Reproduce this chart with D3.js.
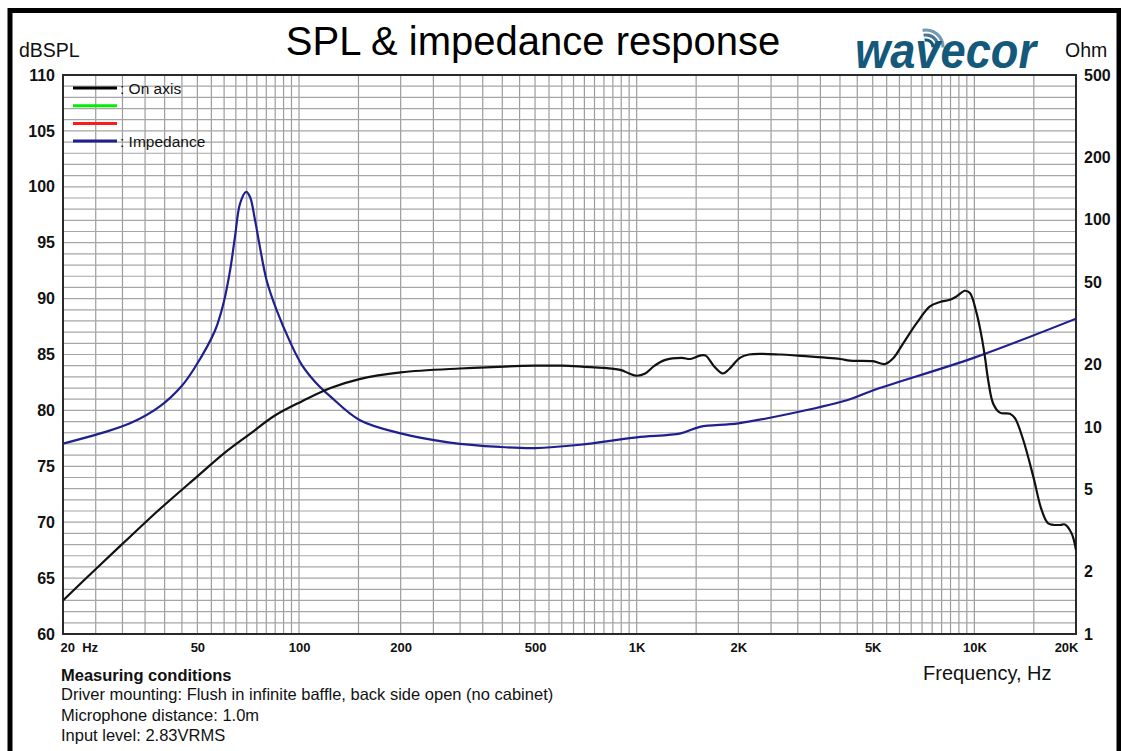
<!DOCTYPE html>
<html>
<head>
<meta charset="utf-8">
<script src="https://cdn.jsdelivr.net/npm/d3@7"></script>
<style>
  html, body { margin: 0; padding: 0; background: #fff; }
  svg text { font-family: "Liberation Sans", Arial, sans-serif; }
</style>
</head>
<body>
<svg id="chart" width="1121" height="751"></svg>
<script>
// ---------- data ----------
const freqTickValues = [20, 50, 100, 200, 500, 1000, 2000, 5000, 10000, 20000];
const freqTickLabels = ["20  Hz", "50", "100", "200", "500", "1K", "2K", "5K", "10K", "20K"];
const splTickValues = [60, 65, 70, 75, 80, 85, 90, 95, 100, 105, 110];
const ohmTickValues = [1, 2, 5, 10, 20, 50, 100, 200, 500];

const splFreq = [20, 25.8, 31.6, 38.8, 50, 60.2, 71.6, 84.4, 101.8, 124, 151, 200, 300, 500, 600, 700, 800, 900, 950, 1000, 1060, 1130, 1210, 1360, 1440, 1540, 1600, 1700, 1800, 1880, 2020, 2150, 2670, 3000, 4000, 4282, 5000, 5435, 5750, 6156, 6746, 7386, 7907, 8466, 8862, 9376, 9702, 10154, 10507, 10746, 10990, 11372, 11906, 12746, 13190, 13958, 14941, 15820, 16550, 17922, 18542, 19410, 20000];
const splDb = [63.0, 66.2, 68.7, 71.2, 74.1, 76.2, 77.9, 79.5, 80.8, 82.0, 82.8, 83.4, 83.75, 84.0, 84.0, 83.9, 83.8, 83.6, 83.3, 83.1, 83.3, 84.0, 84.5, 84.7, 84.6, 84.9, 84.9, 83.9, 83.3, 83.7, 84.7, 85.0, 85.0, 84.9, 84.6, 84.45, 84.4, 84.15, 84.66, 86.0, 87.8, 89.3, 89.7, 89.9, 90.2, 90.7, 90.5, 88.7, 86.6, 84.8, 82.7, 80.6, 79.8, 79.7, 79.3, 77.35, 74.1, 71.1, 69.9, 69.75, 69.8, 69.0, 67.5];

const impFreq = [20, 25.8, 31.6, 38.8, 45, 49.2, 56.4, 59.7, 62.5, 64.6, 66.9, 69.7, 71.6, 74.1, 76.6, 80.2, 85.9, 94, 101.8, 112, 124, 151, 200, 280, 393, 500, 680, 1000, 1350, 1540, 2000, 3000, 4282, 5000, 10000, 20000];
const impOhm = [8.3, 9.3, 10.4, 12.6, 15.8, 19.4, 29.2, 39.3, 57, 82.5, 119.8, 136.3, 128.9, 99.4, 73.8, 50.9, 36.5, 25.8, 20.0, 16.4, 14.0, 10.8, 9.3, 8.4, 8.0, 7.9, 8.2, 8.9, 9.3, 10.0, 10.4, 11.8, 13.6, 15, 21.6, 33.3];

const legendLabels = [": On axis", "", "", ": Impedance"];
const legendColors = ["#000000", "#00ee00", "#ff1a1a", "#1f1f8f"];

const conditionLines = [
  "Driver mounting: Flush in infinite baffle, back side open (no cabinet)",
  "Microphone distance: 1.0m",
  "Input level: 2.83VRMS"
];

// ---------- layout ----------
const L = 63, R = 1076, T = 75, B = 634;
const svg = d3.select("#chart");

const x = d3.scaleLog().domain([20, 20000]).range([L, R]);
const ySpl = d3.scaleLinear().domain([60, 110]).range([B, T]);
const yOhm = d3.scaleLog().domain([1, 500]).range([B, T]);

svg.append("rect").attr("x", 0).attr("y", 0).attr("width", 1121).attr("height", 751).attr("fill", "#fff");
// outer frame
svg.append("rect").attr("x", 10).attr("y", 10.5).attr("width", 1109).attr("height", 760)
  .attr("fill", "none").attr("stroke", "#000").attr("stroke-width", 5);

// grid
const grid = svg.append("g");
const vLines = [];
[10, 100, 1000, 10000].forEach(d => {
  for (let k = 2; k <= 19; k++) {
    const f = d * k / 2;
    if (f > 20 && f < 20000) vLines.push(f);
  }
});
grid.selectAll("line.v").data(vLines).enter().append("line")
  .attr("x1", d => x(d)).attr("x2", d => x(d)).attr("y1", T).attr("y2", B)
  .attr("stroke", "#9c9c9c").attr("stroke-width", 1.2);
grid.selectAll("line.h").data(d3.range(61, 110)).enter().append("line")
  .attr("x1", L).attr("x2", R).attr("y1", d => ySpl(d)).attr("y2", d => ySpl(d))
  .attr("stroke", "#a6a6a6").attr("stroke-width", 1.2);

// plot border
svg.append("rect").attr("x", L).attr("y", T).attr("width", R - L).attr("height", B - T)
  .attr("fill", "none").attr("stroke", "#2a2a2a").attr("stroke-width", 2);

// axes (labels only)
const axL = d3.axisLeft(ySpl).tickValues(splTickValues).tickSize(0).tickPadding(8);
const gL = svg.append("g").attr("transform", `translate(${L},0)`).call(axL);
const axR = d3.axisRight(yOhm).tickValues(ohmTickValues).tickFormat(d3.format("d")).tickSize(0).tickPadding(8);
const gR = svg.append("g").attr("transform", `translate(${R},0)`).call(axR);
const axB = d3.axisBottom(x).tickValues(freqTickValues).tickFormat((d, i) => freqTickLabels[i]).tickSize(0).tickPadding(9);
const gB = svg.append("g").attr("transform", `translate(0,${B})`).call(axB);
[gL, gR, gB].forEach(g => {
  g.select(".domain").remove();
  g.selectAll("text").attr("font-family", "Liberation Sans, Arial, sans-serif")
    .attr("font-weight", "bold").attr("fill", "#111");
});
gL.selectAll("text").attr("font-size", 16);
gR.selectAll("text").attr("font-size", 16);
gB.selectAll("text").attr("font-size", 13).style("white-space", "pre");
gB.selectAll(".tick").filter(d => d === 20).select("text").attr("text-anchor", "start").attr("x", -3);
gB.selectAll(".tick").filter(d => d === 20000).select("text").attr("text-anchor", "end").attr("x", 2);

// curves
const splData = splFreq.map((f, i) => [f, splDb[i]]);
const impData = impFreq.map((f, i) => [f, impOhm[i]]);
svg.append("clipPath").attr("id", "clip").append("rect")
  .attr("x", L).attr("y", T).attr("width", R - L).attr("height", B - T);
svg.append("path").datum(impData)
  .attr("d", d3.line().x(d => x(d[0])).y(d => yOhm(d[1])).curve(d3.curveCatmullRom.alpha(0.5)))
  .attr("fill", "none").attr("stroke", "#1f1f8f").attr("stroke-width", 2.2).attr("clip-path", "url(#clip)");
svg.append("path").datum(splData)
  .attr("d", d3.line().x(d => x(d[0])).y(d => ySpl(d[1])).curve(d3.curveCatmullRom.alpha(0.5)))
  .attr("fill", "none").attr("stroke", "#111").attr("stroke-width", 2.2).attr("clip-path", "url(#clip)");

// legend
const lg = svg.append("g");
legendLabels.forEach((t, i) => {
  const yy = 88 + i * 17.7;
  lg.append("line").attr("x1", 73).attr("x2", 117).attr("y1", yy).attr("y2", yy)
    .attr("stroke", legendColors[i]).attr("stroke-width", 3);
  if (t) lg.append("text").attr("x", 120).attr("y", yy + 5.5).attr("font-size", 15.5)
    .attr("fill", "#111").text(t);
});

// titles
svg.append("text").attr("x", 533).attr("y", 55).attr("text-anchor", "middle")
  .attr("font-size", 40).attr("fill", "#000").text("SPL & impedance response");
svg.append("text").attr("x", 19).attr("y", 57).attr("font-size", 19.5).attr("fill", "#111").text("dBSPL");
svg.append("text").attr("x", 1065).attr("y", 57).attr("font-size", 19.5).attr("fill", "#111").text("Ohm");
svg.append("text").attr("x", 923).attr("y", 680).attr("font-size", 20).attr("fill", "#111").text("Frequency, Hz");

// measuring conditions
svg.append("text").attr("x", 61).attr("y", 681).attr("font-size", 16.5).attr("font-weight", "bold")
  .attr("fill", "#111").text("Measuring conditions");
conditionLines.forEach((t, i) => {
  svg.append("text").attr("x", 61).attr("y", 700 + i * 20.5).attr("font-size", 16.5)
    .attr("fill", "#111").text(t);
});

// logo
const logo = svg.append("g");
logo.append("text").attr("x", 855).attr("y", 68).attr("font-size", 50).attr("font-weight", "bold")
  .attr("font-style", "italic").attr("fill", "#14587c").attr("textLength", 181)
  .attr("lengthAdjust", "spacingAndGlyphs").text("wavecor");
[7, 12, 17].forEach((r, i) => {
  const arc = d3.arc().innerRadius(r - 1.6).outerRadius(r + 1.6).startAngle(-0.2).endAngle(1.6);
  logo.append("path").attr("d", arc()).attr("transform", "translate(926,47)").attr("fill", "#14587c")
    .attr("opacity", 1 - i * 0.2);
});
</script>
</body>
</html>
